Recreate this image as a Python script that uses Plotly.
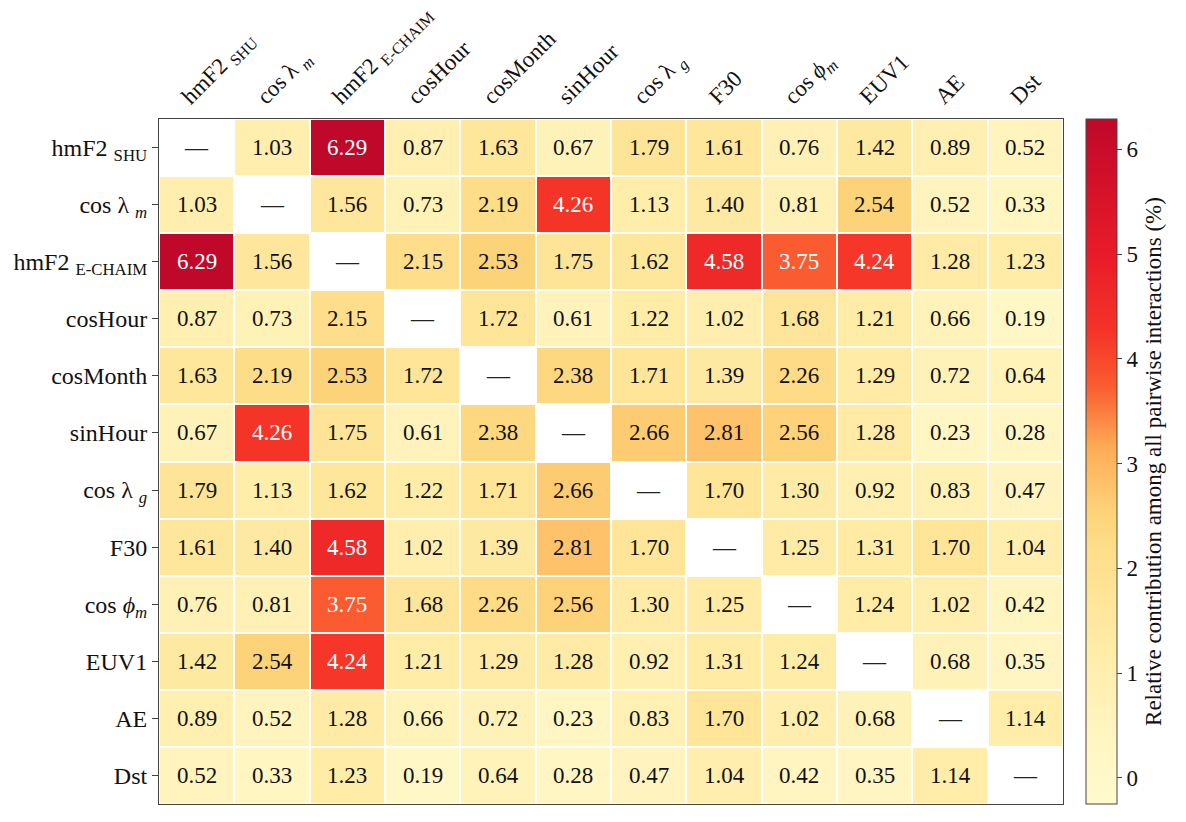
import numpy as np
import plotly.graph_objects as go

features = ['hmF2 <sub>SHU</sub>', 'cos λ <sub><i>m</i></sub>', 'hmF2 <sub>E-CHAIM</sub>', 'cosHour',
            'cosMonth', 'sinHour', 'cos λ <sub><i>g</i></sub>', 'F30', 'cos <i>ϕ</i><sub><i>m</i></sub>',
            'EUV1', 'AE', 'Dst']

# pairwise interaction shares (%), diagonal left empty
row_hmf2_shu = [None, 1.03, 6.29, 0.87, 1.63, 0.67, 1.79, 1.61, 0.76, 1.42, 0.89, 0.52]
row_cos_lam_m = [1.03, None, 1.56, 0.73, 2.19, 4.26, 1.13, 1.40, 0.81, 2.54, 0.52, 0.33]
row_hmf2_echaim = [6.29, 1.56, None, 2.15, 2.53, 1.75, 1.62, 4.58, 3.75, 4.24, 1.28, 1.23]
row_cos_hour = [0.87, 0.73, 2.15, None, 1.72, 0.61, 1.22, 1.02, 1.68, 1.21, 0.66, 0.19]
row_cos_month = [1.63, 2.19, 2.53, 1.72, None, 2.38, 1.71, 1.39, 2.26, 1.29, 0.72, 0.64]
row_sin_hour = [0.67, 4.26, 1.75, 0.61, 2.38, None, 2.66, 2.81, 2.56, 1.28, 0.23, 0.28]
row_cos_lam_g = [1.79, 1.13, 1.62, 1.22, 1.71, 2.66, None, 1.70, 1.30, 0.92, 0.83, 0.47]
row_f30 = [1.61, 1.40, 4.58, 1.02, 1.39, 2.81, 1.70, None, 1.25, 1.31, 1.70, 1.04]
row_cos_phi_m = [0.76, 0.81, 3.75, 1.68, 2.26, 2.56, 1.30, 1.25, None, 1.24, 1.02, 0.42]
row_euv1 = [1.42, 2.54, 4.24, 1.21, 1.29, 1.28, 0.92, 1.31, 1.24, None, 0.68, 0.35]
row_ae = [0.89, 0.52, 1.28, 0.66, 0.72, 0.23, 0.83, 1.70, 1.02, 0.68, None, 1.14]
row_dst = [0.52, 0.33, 1.23, 0.19, 0.64, 0.28, 0.47, 1.04, 0.42, 0.35, 1.14, None]

rows = [row_hmf2_shu, row_cos_lam_m, row_hmf2_echaim, row_cos_hour, row_cos_month, row_sin_hour,
        row_cos_lam_g, row_f30, row_cos_phi_m, row_euv1, row_ae, row_dst]

z = np.array([[np.nan if v is None else v for v in r] for r in rows])

zmin, zmax = -0.25, 6.29

colorscale = [
    [0.0, 'rgb(255,250,205)'],
    [0.12, 'rgb(255,244,190)'],
    [0.2, 'rgb(255,238,172)'],
    [0.29, 'rgb(254,230,154)'],
    [0.37, 'rgb(254,222,138)'],
    [0.43, 'rgb(253,210,120)'],
    [0.52, 'rgb(253,172,86)'],
    [0.61, 'rgb(250,92,48)'],
    [0.69, 'rgb(245,52,40)'],
    [0.8, 'rgb(232,28,40)'],
    [1.0, 'rgb(192,8,42)'],
]

FONT = 'Liberation Serif, Times New Roman, serif'

fig = go.Figure(go.Heatmap(
    z=z, x=features, y=features,
    zmin=zmin, zmax=zmax,
    colorscale=colorscale,
    xgap=2, ygap=2,
    hoverongaps=False,
    colorbar=dict(
        thickness=31, len=1, lenmode='fraction', y=0.5, yanchor='middle',
        x=1.0254, xanchor='left', xpad=0, ypad=0,
        outlinecolor='#444', outlinewidth=1,
        ticks='outside', ticklen=5, tickcolor='#444',
        tickvals=[0, 1, 2, 3, 4, 5, 6],
        tickfont=dict(family=FONT, size=23, color='#111'),
        title=dict(text='Relative contribution among all pairwise interactions (%)',
                   side='right', font=dict(family=FONT, size=23, color='#111')),
    ),
))

# cell labels
for i, r in enumerate(rows):
    for j, v in enumerate(r):
        if v is None:
            txt, col = '—', '#222'
        else:
            txt = f'{v:.2f}'
            col = 'white' if v > 3.2 else '#111'
        fig.add_annotation(x=features[j], y=features[i], text=txt, showarrow=False,
                           font=dict(family=FONT, size=23, color=col))

fig.update_xaxes(side='top', tickangle=-45, showgrid=False, zeroline=False,
                 showline=True, linecolor='#444', linewidth=1, mirror=True,
                 ticks='', ticklabelshift=-14, automargin=False,
                 tickfont=dict(family=FONT, size=23, color='#111'))
fig.update_yaxes(autorange='reversed', showgrid=False, zeroline=False,
                 showline=True, linecolor='#444', linewidth=1, mirror=True,
                 ticks='outside', ticklen=6, tickcolor='#444', automargin=False,
                 tickfont=dict(family=FONT, size=24, color='#111'))

fig.update_layout(
    width=1186, height=822,
    margin=dict(l=159, r=123, t=119, b=18, autoexpand=False),
    plot_bgcolor='white', paper_bgcolor='white',
    font=dict(family=FONT),
)

# drop the default 8px page margin so the figure fills the window
fig.write_html('out.html', config={'displayModeBar': False},
               post_script="document.body.style.margin = '0';")
